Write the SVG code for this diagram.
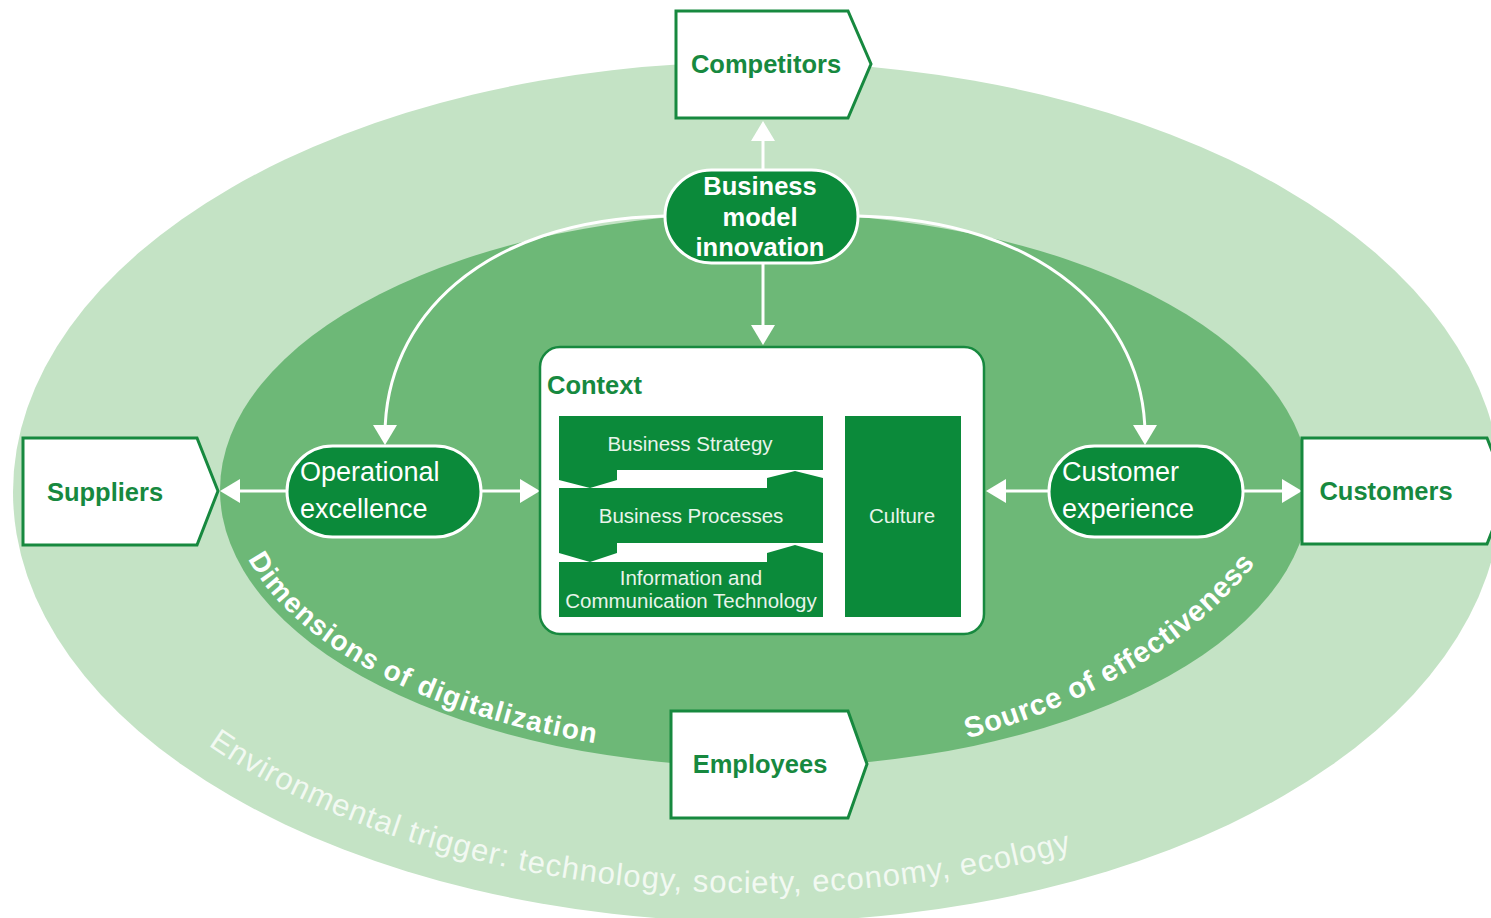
<svg xmlns="http://www.w3.org/2000/svg" width="1491" height="918" viewBox="0 0 1491 918">
<style>
.gtxt{font-family:"Liberation Sans",Arial,sans-serif;font-weight:bold;font-size:25.5px;fill:#17893f;}
.wbold{font-family:"Liberation Sans",Arial,sans-serif;font-weight:bold;font-size:25.5px;fill:#ffffff;}
.wreg{font-family:"Liberation Sans",Arial,sans-serif;font-size:27px;fill:#ffffff;}
.btxt{font-family:"Liberation Sans",Arial,sans-serif;font-size:20.5px;fill:#e8f4ea;}
.pent{fill:#ffffff;stroke:#17893f;stroke-width:3;}
.stad{fill:#0b8a3a;stroke:#ffffff;stroke-width:3;}
.blk{fill:#0b8a3a;}
.conn{fill:none;stroke:#ffffff;stroke-width:3;}
.arc{font-family:"Liberation Sans",Arial,sans-serif;fill:#ffffff;}
.env{font-family:"Liberation Sans Narrow","Arial Narrow","Liberation Sans",Arial,sans-serif;fill:#f2f9f2;}
</style>
<defs>
<marker id="ah" viewBox="0 0 20 24" refX="10" refY="12" markerWidth="20" markerHeight="24" markerUnits="userSpaceOnUse" orient="auto">
<path d="M0,0 L20,12 L0,24 z" fill="#ffffff"/>
</marker>
<path id="pDim" d="M 230,490 A 535 267 0 0 0 1300,490"/>
<path id="pSrc" d="M 962,740 C 1058,714 1178,662 1258,560"/>
<path id="pEnv" d="M 49,492 A 708 401 0 0 0 1465,492"/>
</defs>

<g id="background">
<ellipse cx="757" cy="492" rx="744" ry="430" fill="#c4e3c5"/>
<ellipse cx="765" cy="490" rx="545" ry="277" fill="#6db877"/>
<text class="env" font-size="31"><textPath href="#pEnv" startOffset="311" textLength="895" lengthAdjust="spacing">Environmental trigger: technology, society, economy, ecology</textPath></text>
<text class="arc" font-size="28" font-weight="bold"><textPath href="#pDim" startOffset="72" textLength="405" lengthAdjust="spacing">Dimensions of digitalization</textPath></text>
<text class="arc" font-size="29" font-weight="bold"><textPath href="#pSrc" startOffset="6" textLength="342" lengthAdjust="spacing">Source of effectiveness</textPath></text>
</g>

<g id="connectors">
<path class="conn" d="M763,170 L763,131" marker-end="url(#ah)"/>
<path class="conn" d="M763,263 L763,335" marker-end="url(#ah)"/>
<path class="conn" d="M665,216 C480,220 385,320 385,435" marker-end="url(#ah)"/>
<path class="conn" d="M858,216 C1045,220 1145,320 1145,435" marker-end="url(#ah)"/>
<path class="conn" d="M287,491 L230,491" marker-end="url(#ah)"/>
<path class="conn" d="M481,491 L530,491" marker-end="url(#ah)"/>
<path class="conn" d="M1049,491 L996,491" marker-end="url(#ah)"/>
<path class="conn" d="M1243,491 L1292,491" marker-end="url(#ah)"/>
</g>

<g id="competitors">
<polygon class="pent" points="676,11 848,11 871,64 848,118 676,118"/>
<text class="gtxt" x="766" y="73" text-anchor="middle">Competitors</text>
</g>

<g id="suppliers">
<polygon class="pent" points="23,438 197,438 218,491 197,545 23,545"/>
<text class="gtxt" x="105" y="501" text-anchor="middle">Suppliers</text>
</g>

<g id="customers">
<polygon class="pent" points="1302,438 1487,438 1508,491 1487,544 1302,544"/>
<text class="gtxt" x="1386" y="500" text-anchor="middle">Customers</text>
</g>

<g id="employees">
<polygon class="pent" points="671,711 848,711 867,764 848,818 671,818"/>
<text class="gtxt" x="760" y="773" text-anchor="middle">Employees</text>
</g>

<g id="business-model-innovation">
<rect class="stad" x="665" y="170" width="193" height="93" rx="46.5" ry="46.5"/>
<text class="wbold" text-anchor="middle"><tspan x="760" y="195">Business</tspan><tspan x="760" y="226">model</tspan><tspan x="760" y="256">innovation</tspan></text>
</g>

<g id="operational-excellence">
<rect class="stad" x="287" y="446" width="194" height="91" rx="45.5" ry="45.5"/>
<text class="wreg"><tspan x="300" y="481">Operational</tspan><tspan x="300" y="518">excellence</tspan></text>
</g>

<g id="customer-experience">
<rect class="stad" x="1049" y="446" width="194" height="91" rx="45.5" ry="45.5"/>
<text class="wreg"><tspan x="1062" y="481">Customer</tspan><tspan x="1062" y="518">experience</tspan></text>
</g>

<g id="context">
<rect x="540" y="347" width="444" height="287" rx="20" ry="20" fill="#ffffff" stroke="#17893f" stroke-width="2.5"/>
<text class="gtxt" x="547" y="394">Context</text>
<polygon class="blk" points="559,416 823,416 823,470 617,470 617,480 590,488 559,480"/>
<polygon class="blk" points="559,488 767,488 767,478 795,471 823,478 823,543 617,543 617,553 590,562 559,553"/>
<polygon class="blk" points="559,562 767,562 767,553 795,545 823,553 823,617 559,617"/>
<rect class="blk" x="845" y="416" width="116" height="201"/>
<text class="btxt" x="690" y="451" text-anchor="middle">Business Strategy</text>
<text class="btxt" x="691" y="523" text-anchor="middle">Business Processes</text>
<text class="btxt" x="691" y="585" text-anchor="middle" font-size="19.5">Information and</text>
<text class="btxt" x="691" y="608" text-anchor="middle" font-size="19.5">Communication Technology</text>
<text class="btxt" x="902" y="523" text-anchor="middle">Culture</text>
</g>
</svg>
